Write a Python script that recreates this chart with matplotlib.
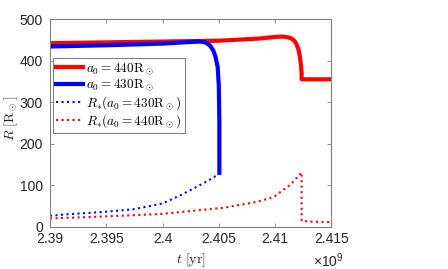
import numpy as np
import matplotlib.pyplot as plt

plt.rcParams['font.family'] = ['Liberation Sans', 'DejaVu Sans']
plt.rcParams['mathtext.fontset'] = 'cm'

# time in units of 1e9 yr
t_red = [2.39, 2.395, 2.40, 2.405, 2.4085, 2.4100, 2.4106, 2.4110, 2.4114, 2.4117,
         2.4119, 2.4121, 2.4122, 2.4123, 2.41236, 2.41236, 2.415]
r_red = [442, 444, 446, 448, 453, 457, 458, 457, 454, 448,
         440, 425, 410, 390, 370, 355, 355]

t_blue = [2.39, 2.395, 2.40, 2.4025, 2.4033, 2.4038, 2.4042, 2.4045, 2.4047, 2.4049,
          2.40500, 2.40505, 2.40505]
r_blue = [434, 437, 441, 445, 446, 444, 437, 425, 410, 385,
          340, 250, 130]

t_rs_blue = [2.39, 2.3915, 2.3944, 2.3974, 2.40, 2.4016, 2.4033, 2.4043, 2.40505]
rs_blue = [26.5, 30, 35, 42, 56, 76, 100, 115, 128]

t_rs_red = [2.39, 2.395, 2.40, 2.4055, 2.4084, 2.4099, 2.4114, 2.41236, 2.41236, 2.4135, 2.415]
rs_red = [20, 25, 31, 46, 60, 72, 102, 131, 14, 12, 11]

xticks = [2.39, 2.395, 2.40, 2.405, 2.41, 2.415]
xticklabels = ['2.39', '2.395', '2.4', '2.405', '2.41', '2.415']
yticks = [0, 100, 200, 300, 400, 500]

fig = plt.figure(figsize=(4.48, 2.69), dpi=100)
ax = fig.add_axes([0.1116, 0.157, 0.628, 0.772])

ax.plot(t_red, r_red, color='#ff0000', lw=3.0, label=r'$a_0 = 440\mathrm{R}_\odot$')
ax.plot(t_blue, r_blue, color='#0000ff', lw=3.0, label=r'$a_0 = 430\mathrm{R}_\odot$')
ax.plot(t_rs_blue, rs_blue, color='#0000ff', lw=1.5, ls=':', label=r'$R_{*}(a_0 = 430\mathrm{R}_\odot)$')
ax.plot(t_rs_red, rs_red, color='#ff0000', lw=1.5, ls=':', label=r'$R_{*}(a_0 = 440\mathrm{R}_\odot)$')

ax.set_xlim(2.39, 2.415)
ax.set_ylim(0, 500)
ax.set_xticks(xticks)
ax.set_xticklabels(xticklabels)
ax.set_yticks(yticks)

for s in ax.spines.values():
    s.set_color('#808080')
    s.set_linewidth(0.8)
ax.tick_params(direction='in', top=True, right=True, length=3, width=0.6,
               color='#808080', labelcolor='#262626', labelsize=10)
ax.tick_params(axis='x', pad=4)
ax.tick_params(axis='y', pad=5)

ax.set_xlabel(r'$t\ [\mathrm{yr}]$', fontsize=10, color='#262626')
ax.xaxis.set_label_coords(0.5, -0.118)
ax.set_ylabel(r'$R\ [\mathrm{R}_\odot]$', fontsize=10, color='#262626')
ax.yaxis.set_label_coords(-0.105, 0.52)
ax.text(1.043, -0.118, r'$\mathdefault{\times10^{9}}$', transform=ax.transAxes, ha='right', va='top',
        fontsize=10, color='#262626')

leg = ax.legend(loc='upper left', bbox_to_anchor=(0.011, 0.815), borderaxespad=0,
                fontsize=9.5, fancybox=False, framealpha=1, edgecolor='#808080',
                handlelength=2.0, labelspacing=0.05, borderpad=0.25, handletextpad=0.25)
leg.get_frame().set_linewidth(0.8)

fig.savefig('out.png', dpi=100)
